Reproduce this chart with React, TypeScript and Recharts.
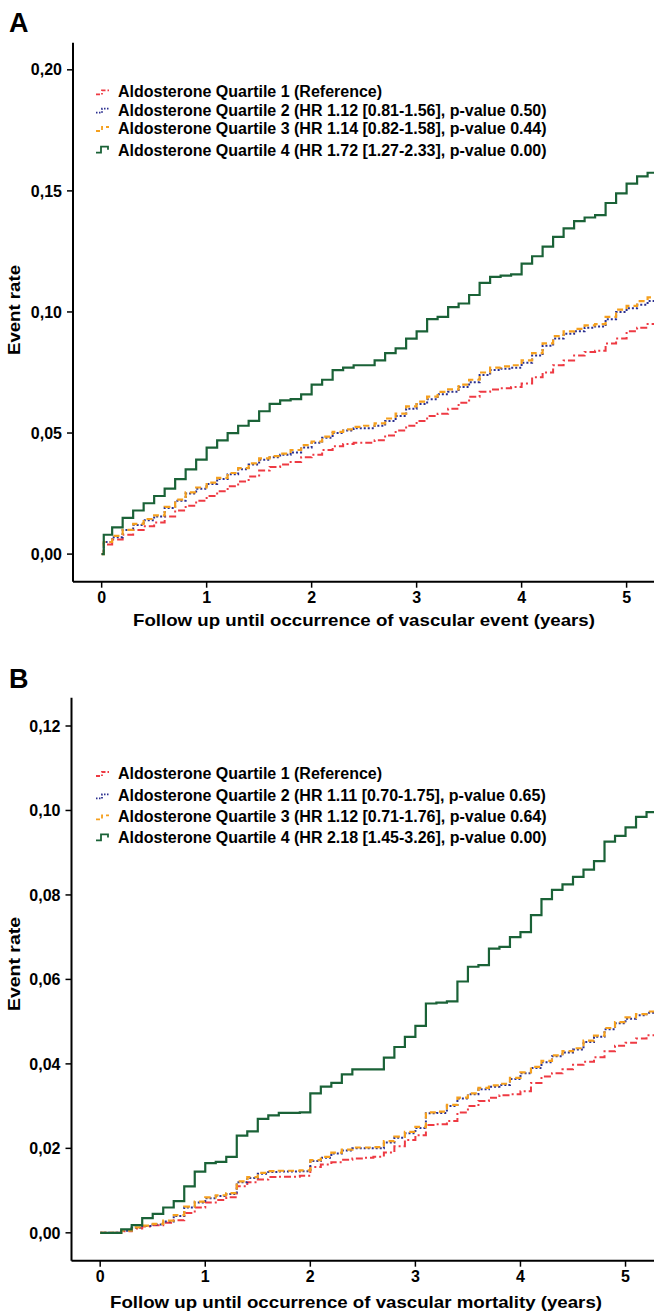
import React from 'react';
import { LineChart, Line, XAxis, YAxis, Legend } from 'recharts';

// Follow-up time grid (years)
const times = [
  0, 0.02,
  0.1, 0.2, 0.3, 0.4, 0.5, 0.6, 0.7, 0.8, 0.9, 1.0,
  1.1, 1.2, 1.3, 1.4, 1.5, 1.6, 1.7, 1.8, 1.9, 2.0,
  2.1, 2.2, 2.3, 2.4, 2.5, 2.6, 2.7, 2.8, 2.9, 3.0,
  3.1, 3.2, 3.3, 3.4, 3.5, 3.6, 3.7, 3.8, 3.9, 4.0,
  4.1, 4.2, 4.3, 4.4, 4.5, 4.6, 4.7, 4.8, 4.9, 5.0,
  5.1, 5.2, 5.3,
];

// Panel A: vascular event
const eventQ1 = [
  0, 0.004,
  0.006, 0.008, 0.010, 0.0115, 0.013, 0.0155, 0.018, 0.020, 0.022, 0.024,
  0.026, 0.028, 0.030, 0.032, 0.0345, 0.036, 0.037, 0.038, 0.040, 0.041,
  0.043, 0.0445, 0.0455, 0.046, 0.046, 0.047, 0.049, 0.051, 0.053, 0.055,
  0.057, 0.058, 0.060, 0.0625, 0.065, 0.067, 0.068, 0.0685, 0.069, 0.0705,
  0.073, 0.075, 0.078, 0.080, 0.082, 0.0835, 0.084, 0.087, 0.089, 0.092,
  0.0935, 0.095, 0.0955,
];
const eventQ2 = [
  0, 0.005,
  0.007, 0.010, 0.012, 0.014, 0.0155, 0.019, 0.022, 0.025, 0.027, 0.029,
  0.031, 0.033, 0.035, 0.037, 0.039, 0.040, 0.041, 0.042, 0.044, 0.046,
  0.048, 0.050, 0.051, 0.052, 0.052, 0.053, 0.055, 0.057, 0.060, 0.062,
  0.064, 0.066, 0.067, 0.069, 0.071, 0.074, 0.076, 0.0765, 0.077, 0.079,
  0.082, 0.086, 0.089, 0.091, 0.092, 0.0935, 0.094, 0.097, 0.100, 0.1015,
  0.103, 0.1045, 0.105,
];
const eventQ3 = [
  0, 0.005,
  0.0075, 0.010, 0.0125, 0.0145, 0.016, 0.0195, 0.0225, 0.0255, 0.0275, 0.0295,
  0.0315, 0.0335, 0.0355, 0.0375, 0.0395, 0.0405, 0.0415, 0.043, 0.045, 0.0465,
  0.0485, 0.0505, 0.0515, 0.0525, 0.053, 0.054, 0.056, 0.058, 0.061, 0.063,
  0.065, 0.067, 0.068, 0.070, 0.072, 0.075, 0.077, 0.0775, 0.078, 0.080,
  0.083, 0.087, 0.090, 0.092, 0.093, 0.0945, 0.095, 0.098, 0.101, 0.1025,
  0.1045, 0.106, 0.1065,
];
const eventQ4 = [
  0, 0.008,
  0.011, 0.015, 0.018, 0.021, 0.024, 0.027, 0.031, 0.035, 0.039, 0.044,
  0.047, 0.050, 0.053, 0.055, 0.059, 0.062, 0.0635, 0.064, 0.066, 0.070,
  0.072, 0.076, 0.077, 0.078, 0.078, 0.080, 0.083, 0.085, 0.089, 0.092,
  0.097, 0.098, 0.102, 0.1035, 0.107, 0.112, 0.1145, 0.115, 0.1155, 0.120,
  0.123, 0.127, 0.131, 0.1345, 0.1375, 0.139, 0.140, 0.145, 0.149, 0.153,
  0.156, 0.1575, 0.158,
];

// Panel B: vascular mortality
const mortQ1 = [
  0, 0,
  0, 0.0004, 0.001, 0.0015, 0.0018, 0.0024, 0.003, 0.0047, 0.006, 0.0072,
  0.0078, 0.0084, 0.011, 0.012, 0.0126, 0.0132, 0.0133, 0.0133, 0.0135, 0.0156,
  0.0162, 0.0167, 0.0173, 0.0176, 0.0178, 0.018, 0.019, 0.0205, 0.022, 0.0231,
  0.0255, 0.0257, 0.0265, 0.0285, 0.030, 0.0312, 0.032, 0.0326, 0.0328, 0.0335,
  0.0355, 0.037, 0.0378, 0.0387, 0.0398, 0.0405, 0.0416, 0.043, 0.0443, 0.045,
  0.046, 0.0468, 0.0472,
];
const mortQ2 = [
  0, 0,
  0, 0.0005, 0.0012, 0.0016, 0.002, 0.0027, 0.004, 0.006, 0.0072, 0.0082,
  0.0087, 0.0092, 0.012, 0.013, 0.014, 0.0144, 0.0145, 0.0145, 0.0146, 0.017,
  0.0178, 0.0188, 0.0195, 0.020, 0.020, 0.020, 0.0214, 0.0225, 0.0236, 0.0248,
  0.0283, 0.0284, 0.030, 0.0318, 0.0328, 0.034, 0.0346, 0.035, 0.0364, 0.0378,
  0.039, 0.0404, 0.0418, 0.0427, 0.0434, 0.0452, 0.0464, 0.0482, 0.0496, 0.0507,
  0.0515, 0.0521, 0.0523,
];
const mortQ3 = [
  0, 0,
  0, 0.0005, 0.0013, 0.0017, 0.0021, 0.0029, 0.0042, 0.0062, 0.0074, 0.0084,
  0.0089, 0.0094, 0.0122, 0.0132, 0.0142, 0.0146, 0.0147, 0.0147, 0.0148, 0.0172,
  0.018, 0.019, 0.0197, 0.0202, 0.0202, 0.0203, 0.0217, 0.0228, 0.0239, 0.0251,
  0.0285, 0.0287, 0.0303, 0.032, 0.033, 0.0343, 0.0349, 0.0353, 0.0367, 0.038,
  0.0393, 0.0407, 0.042, 0.043, 0.0437, 0.0455, 0.0467, 0.0485, 0.0499, 0.051,
  0.0518, 0.0524, 0.0526,
];
const mortQ4 = [
  0, 0,
  0, 0.0008, 0.0018, 0.0035, 0.0045, 0.006, 0.0075, 0.011, 0.0145, 0.0165,
  0.0168, 0.018, 0.023, 0.024, 0.027, 0.0278, 0.0284, 0.0284, 0.0285, 0.033,
  0.0346, 0.0355, 0.0375, 0.0387, 0.0387, 0.0387, 0.0415, 0.044, 0.0464, 0.049,
  0.0543, 0.0545, 0.0548, 0.0595, 0.063, 0.0634, 0.0673, 0.0677, 0.070, 0.0712,
  0.0752, 0.079, 0.0812, 0.0825, 0.0843, 0.086, 0.088, 0.0926, 0.094, 0.096,
  0.0985, 0.0996, 0.0996,
];

const xTicks = [0, 1, 2, 3, 4, 5];
const yTicksA = [0, 0.05, 0.1, 0.15, 0.2];
const yTicksB = [0, 0.02, 0.04, 0.06, 0.08, 0.1, 0.12];

const labelsA = [
  'Aldosterone Quartile 1 (Reference)',
  'Aldosterone Quartile 2 (HR 1.12 [0.81-1.56], p-value 0.50)',
  'Aldosterone Quartile 3 (HR 1.14 [0.82-1.58], p-value 0.44)',
  'Aldosterone Quartile 4 (HR 1.72 [1.27-2.33], p-value 0.00)',
];
const labelsB = [
  'Aldosterone Quartile 1 (Reference)',
  'Aldosterone Quartile 2 (HR 1.11 [0.70-1.75], p-value 0.65)',
  'Aldosterone Quartile 3 (HR 1.12 [0.71-1.76], p-value 0.64)',
  'Aldosterone Quartile 4 (HR 2.18 [1.45-3.26], p-value 0.00)',
];

const seriesKeys = ['q1', 'q2', 'q3', 'q4'];
const seriesStyle: Record<string, { color: string; dash?: string; width: number; legendDash?: string }> = {
  q1: { color: '#ee3a43', dash: '7 3 2 3', width: 2, legendDash: '4 2 1.5 2' },
  q2: { color: '#2b2f8f', dash: '2 2', width: 2, legendDash: '1.5 1.5' },
  q3: { color: '#f5a01e', dash: '6 4', width: 2.2, legendDash: '4 3' },
  q4: { color: '#1a6237', width: 2.2 },
};

const FONT = '"Liberation Sans", Arial, Helvetica, sans-serif';

const build = (a: number[], b: number[], c: number[], d: number[]) =>
  times.map((t, i) => ({ t, q1: a[i], q2: b[i], q3: c[i], q4: d[i] }));

const dataA = build(eventQ1, eventQ2, eventQ3, eventQ4);
const dataB = build(mortQ1, mortQ2, mortQ3, mortQ4);

const fmt = (v: number) => v.toFixed(2).replace('.', ',');

type PanelProps = {
  data: any[];
  yTicks: number[];
  yDomain: [number, number];
  xDomain: [number, number];
  height: number;
  marginTop: number;
  plotHeight: number;
  yAxisWidth: number;
  xTitle: string;
  xTitleX: number;
  xTitleY: number;
  xTitleLen: number;
  yTitleY: number;
  yTitleLen: number;
  labels: string[];
  legendYs: number[];
};

function LegendBlock({ labels, ys }: { labels: string[]; ys: number[] }) {
  return (
    <svg width={655} height={260} style={{ position: 'absolute', left: 0, top: 0, overflow: 'visible' }}>
      {labels.map((lab, i) => {
        const st = seriesStyle[seriesKeys[i]];
        const y = ys[i];
        const path = i === 3 ? `M96,${y - 3} h5 v-6 h7 v3` : `M96,${y - 3} h6 v-4 h7`;
        return (
          <g key={lab}>
            <path d={path} fill="none" stroke={st.color} strokeWidth={1.8} strokeDasharray={st.legendDash} />
            <text x={118} y={y} fontFamily={FONT} fontWeight="bold" fontSize={16} fill="#000">
              {lab}
            </text>
          </g>
        );
      })}
    </svg>
  );
}

function Panel(p: PanelProps) {
  const xAxisHeight = p.height - p.marginTop - p.plotHeight;
  return (
    <LineChart
      width={656}
      height={p.height}
      data={p.data}
      margin={{ top: p.marginTop, right: 0, bottom: 0, left: 0 }}
      style={{ fontFamily: FONT }}
    >
      <XAxis
        xAxisId="top"
        orientation="top"
        dataKey="t"
        type="number"
        domain={p.xDomain}
        allowDataOverflow
        height={0}
        tick={false}
        tickLine={false}
        axisLine={{ stroke: '#000', strokeWidth: 2 }}
      />
      <XAxis
        dataKey="t"
        type="number"
        domain={p.xDomain}
        allowDataOverflow
        ticks={xTicks}
        height={xAxisHeight}
        tickSize={6}
        tickMargin={4}
        tick={{ fill: '#000', fontSize: 16, fontWeight: 'bold', fontFamily: FONT }}
        tickLine={{ stroke: '#000', strokeWidth: 1.5 }}
        axisLine={{ stroke: '#000', strokeWidth: 2 }}
        label={{
          content: () => (
            <text
              x={p.xTitleX}
              y={p.xTitleY}
              textAnchor="middle"
              fontFamily={FONT}
              fontWeight="bold"
              fontSize={17}
              textLength={p.xTitleLen}
              lengthAdjust="spacingAndGlyphs"
              fill="#000"
            >
              {p.xTitle}
            </text>
          ),
        }}
      />
      <YAxis
        type="number"
        domain={p.yDomain}
        allowDataOverflow
        ticks={p.yTicks}
        tickFormatter={fmt}
        width={p.yAxisWidth}
        tickSize={6}
        tickMargin={5}
        tick={{ fill: '#000', fontSize: 16, fontWeight: 'bold', fontFamily: FONT }}
        tickLine={{ stroke: '#000', strokeWidth: 1.5 }}
        axisLine={{ stroke: '#000', strokeWidth: 2 }}
        label={{
          content: () => (
            <text
              x={14.5}
              y={p.yTitleY}
              textAnchor="middle"
              dominantBaseline="central"
              transform={`rotate(-90, 14.5, ${p.yTitleY})`}
              fontFamily={FONT}
              fontWeight="bold"
              fontSize={17}
              textLength={p.yTitleLen}
              lengthAdjust="spacingAndGlyphs"
              fill="#000"
            >
              Event rate
            </text>
          ),
        }}
      />
      <Legend
        wrapperStyle={{ position: 'absolute', left: 0, top: 0, width: 0, height: 0, overflow: 'visible' }}
        content={() => <LegendBlock labels={p.labels} ys={p.legendYs} />}
      />
      {seriesKeys.map((k) => (
        <Line
          key={k}
          dataKey={k}
          type="stepAfter"
          stroke={seriesStyle[k].color}
          strokeWidth={seriesStyle[k].width}
          strokeDasharray={seriesStyle[k].dash}
          dot={false}
          activeDot={false}
          isAnimationActive={false}
          legendType="none"
        />
      ))}
    </LineChart>
  );
}

export default function App() {
  return (
    <div style={{ position: 'relative', width: 654, height: 1316, overflow: 'hidden', fontFamily: FONT }}>
      <style>{'html{overflow:hidden;} body{margin:0;}'}</style>
      <div style={{ position: 'absolute', left: 0, top: 0 }}>
        <Panel
          data={dataA}
          yTicks={yTicksA}
          yDomain={[-0.0114, 0.2112]}
          xDomain={[-0.273, 5.28]}
          height={640}
          marginTop={42.7}
          plotHeight={539}
          yAxisWidth={73}
          xTitle="Follow up until occurrence of vascular event (years)"
          xTitleX={364}
          xTitleY={626}
          xTitleLen={462}
          yTitleY={310}
          yTitleLen={90}
          labels={labelsA}
          legendYs={[97.4, 115.7, 134, 155.7]}
        />
      </div>
      <div style={{ position: 'absolute', left: 0, top: 640 }}>
        <Panel
          data={dataB}
          yTicks={yTicksB}
          yDomain={[-0.0066, 0.1267]}
          xDomain={[-0.273, 5.29]}
          height={676}
          marginTop={57.7}
          plotHeight={563}
          yAxisWidth={71.5}
          xTitle="Follow up until occurrence of vascular mortality (years)"
          xTitleX={356}
          xTitleY={668}
          xTitleLen={492}
          yTitleY={324}
          yTitleLen={94}
          labels={labelsB}
          legendYs={[139, 161.4, 182.4, 203.4]}
        />
      </div>
      <svg width={654} height={1316} style={{ position: 'absolute', left: 0, top: 0, pointerEvents: 'none' }}>
        <text x={9} y={32} fontFamily={FONT} fontWeight="bold" fontSize={27} fill="#000">A</text>
        <text x={9} y={688} fontFamily={FONT} fontWeight="bold" fontSize={27} fill="#000">B</text>
      </svg>
    </div>
  );
}
